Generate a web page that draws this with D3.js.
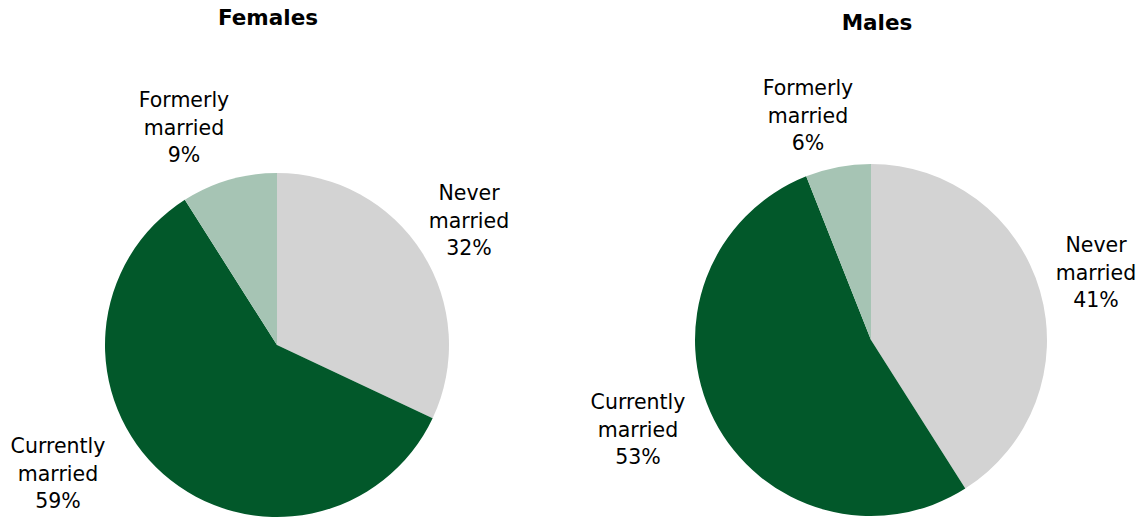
<!DOCTYPE html>
<html>
<head>
<meta charset="utf-8">
<script src="https://cdn.jsdelivr.net/npm/d3@7"></script>
<style>
  html, body { margin: 0; padding: 0; background: #fff; }
  svg { display: block; font-family: "DejaVu Sans", Verdana, sans-serif; }
</style>
</head>
<body>
<svg id="chart" width="1137" height="518"></svg>
<script>
// Marital status shares (%)
const categories = ["Never married", "Currently married", "Formerly married"];
const femalesValues = [32, 59, 9];
const malesValues = [41, 53, 6];
const panelTitles = ["Females", "Males"];

const colors = d3.scaleOrdinal()
  .domain(categories)
  .range(["#d3d3d3", "#02582a", "#a6c4b4"]);

// Panel geometry and label placement (offsets from pie centre)
const panels = [
  { title: panelTitles[0], values: femalesValues, cx: 277, cy: 345, r: 172, titleX: 268, titleY: 25,
    labelPos: [[192, -145], [-219, 108], [-93, -238]] },
  { title: panelTitles[1], values: malesValues, cx: 871, cy: 340, r: 176, titleX: 877, titleY: 30,
    labelPos: [[225, -88], [-233, 69], [-63, -245]] }
];

const svg = d3.select("#chart");
const pie = d3.pie().sort(null).value(d => d.value);
const lineH = 27.5;

panels.forEach(p => {
  const data = categories.map((c, i) => ({ category: c, value: p.values[i] }));
  const arc = d3.arc().innerRadius(0).outerRadius(p.r);
  const g = svg.append("g").attr("transform", `translate(${p.cx},${p.cy})`);

  g.selectAll("path")
    .data(pie(data))
    .join("path")
    .attr("d", arc)
    .attr("fill", d => colors(d.data.category));

  svg.append("text")
    .attr("x", p.titleX)
    .attr("y", p.titleY)
    .attr("text-anchor", "middle")
    .attr("font-size", 21.5)
    .attr("font-weight", "bold")
    .attr("fill", "#000")
    .text(p.title);

  data.forEach((d, i) => {
    const [dx, dy] = p.labelPos[i];
    const words = d.category.split(" ");
    const lines = [words[0], words[1], d.value + "%"];
    const t = svg.append("text")
      .attr("text-anchor", "middle")
      .attr("font-size", 20.5)
      .attr("fill", "#000");
    lines.forEach((ln, k) => {
      t.append("tspan")
        .attr("x", p.cx + dx)
        .attr("y", p.cy + dy + k * lineH)
        .text(ln);
    });
  });
});
</script>
</body>
</html>
